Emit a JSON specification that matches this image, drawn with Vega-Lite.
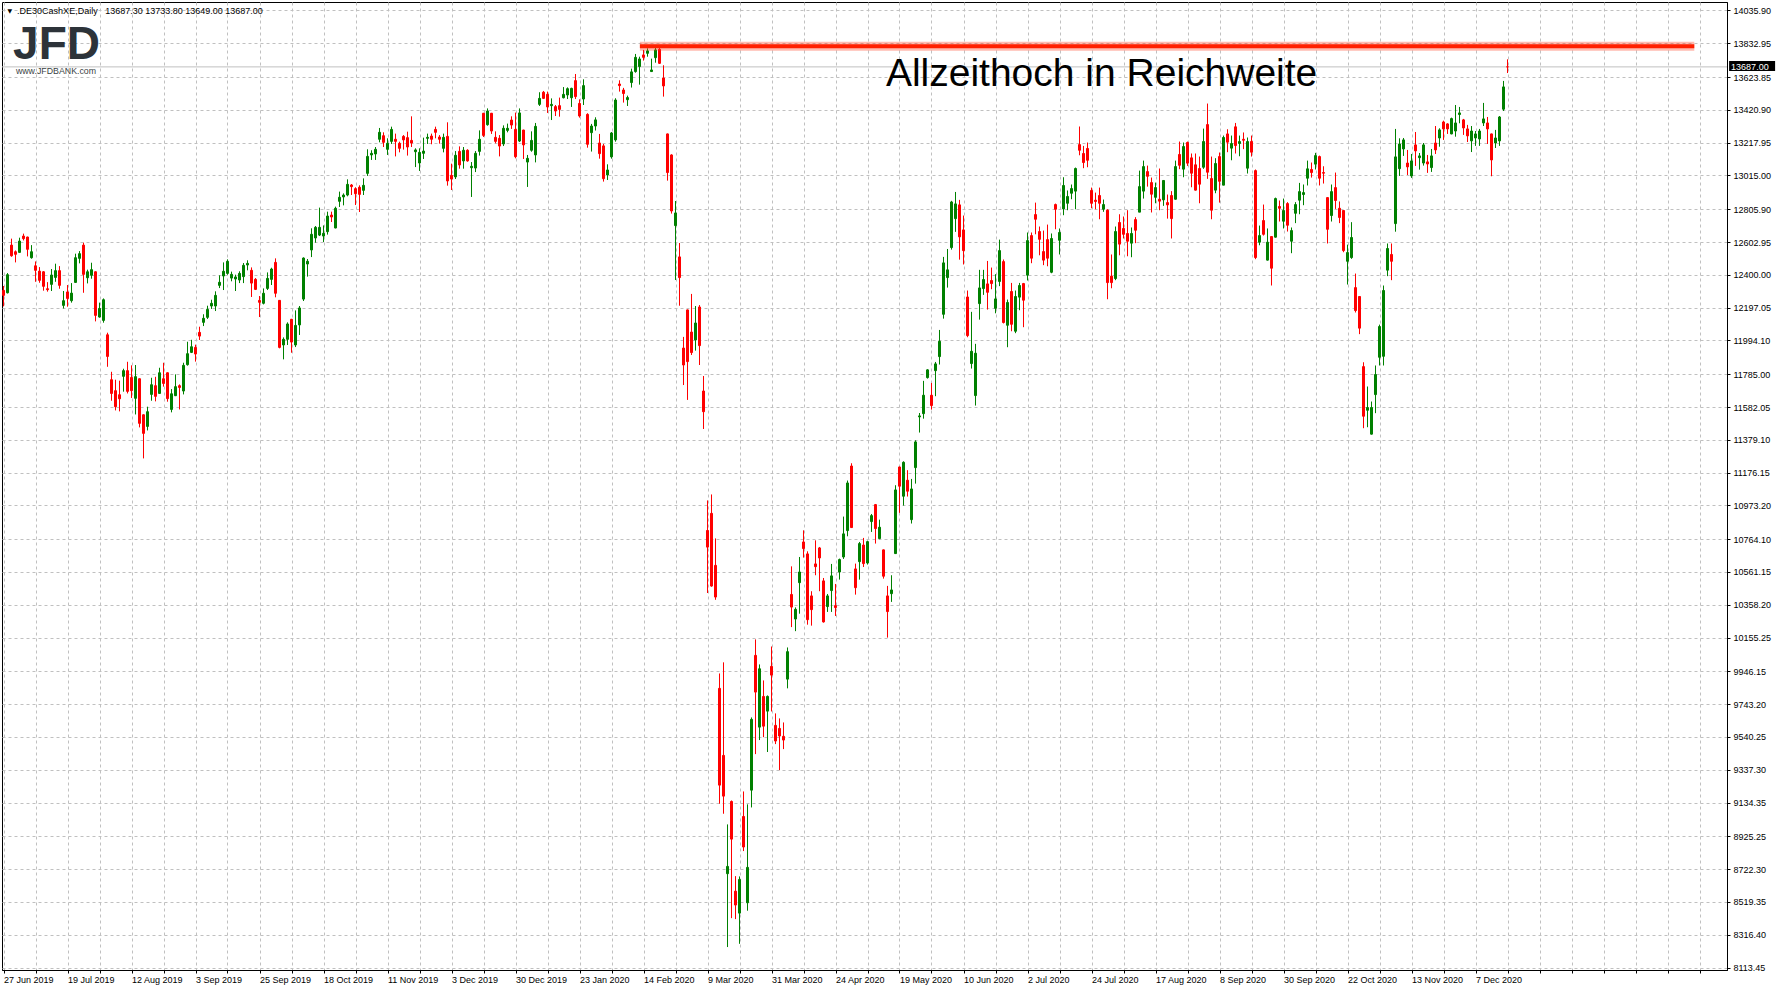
{
"$schema": "https://vega.github.io/schema/vega-lite/v6.json",
"width": 1725,
"height": 968,
"autosize": {"type": "none"},
"padding": {"left": 2, "top": 2, "right": 51, "bottom": 21},
"background": "white",
"config": {"view": {"stroke": "#000000", "strokeWidth": 1}, "font": "Liberation Sans", "scale": {"continuousPadding": 0}},
"datasets": {
"candles": [
{"i":0,"o":12304,"h":12331,"l":12205,"c":12273},
{"i":1,"o":12289,"h":12411,"l":12285,"c":12401},
{"i":2,"o":12584,"h":12624,"l":12512,"c":12518},
{"i":3,"o":12543,"h":12551,"l":12477,"c":12527},
{"i":4,"o":12539,"h":12630,"l":12537,"c":12609},
{"i":5,"o":12640,"h":12655,"l":12613,"c":12624},
{"i":6,"o":12634,"h":12636,"l":12514,"c":12558},
{"i":7,"o":12506,"h":12584,"l":12500,"c":12543},
{"i":8,"o":12456,"h":12483,"l":12357,"c":12428},
{"i":9,"o":12423,"h":12448,"l":12351,"c":12366},
{"i":10,"o":12419,"h":12423,"l":12302,"c":12329},
{"i":11,"o":12314,"h":12355,"l":12296,"c":12308},
{"i":12,"o":12341,"h":12436,"l":12300,"c":12399},
{"i":13,"o":12384,"h":12469,"l":12357,"c":12426},
{"i":14,"o":12426,"h":12454,"l":12314,"c":12335},
{"i":15,"o":12211,"h":12300,"l":12192,"c":12240},
{"i":16,"o":12294,"h":12337,"l":12203,"c":12254},
{"i":17,"o":12240,"h":12349,"l":12228,"c":12287},
{"i":18,"o":12353,"h":12531,"l":12351,"c":12506},
{"i":19,"o":12502,"h":12547,"l":12471,"c":12531},
{"i":20,"o":12584,"h":12599,"l":12289,"c":12403},
{"i":21,"o":12382,"h":12432,"l":12347,"c":12419},
{"i":22,"o":12397,"h":12475,"l":12376,"c":12432},
{"i":23,"o":12419,"h":12421,"l":12112,"c":12149},
{"i":24,"o":12139,"h":12228,"l":12135,"c":12192},
{"i":25,"o":12118,"h":12254,"l":12104,"c":12246},
{"i":26,"o":12029,"h":12042,"l":11831,"c":11895},
{"i":27,"o":11751,"h":11800,"l":11621,"c":11666},
{"i":28,"o":11683,"h":11751,"l":11561,"c":11584},
{"i":29,"o":11658,"h":11745,"l":11555,"c":11633},
{"i":30,"o":11772,"h":11819,"l":11677,"c":11807},
{"i":31,"o":11807,"h":11862,"l":11666,"c":11679},
{"i":32,"o":11765,"h":11840,"l":11638,"c":11683},
{"i":33,"o":11636,"h":11842,"l":11536,"c":11770},
{"i":34,"o":11757,"h":11759,"l":11456,"c":11481},
{"i":35,"o":11534,"h":11536,"l":11264,"c":11419},
{"i":36,"o":11462,"h":11584,"l":11437,"c":11553},
{"i":37,"o":11660,"h":11763,"l":11621,"c":11720},
{"i":38,"o":11714,"h":11769,"l":11617,"c":11648},
{"i":39,"o":11666,"h":11825,"l":11664,"c":11794},
{"i":40,"o":11757,"h":11856,"l":11708,"c":11728},
{"i":41,"o":11794,"h":11796,"l":11615,"c":11634},
{"i":42,"o":11567,"h":11693,"l":11549,"c":11664},
{"i":43,"o":11652,"h":11784,"l":11650,"c":11708},
{"i":44,"o":11714,"h":11722,"l":11567,"c":11703},
{"i":45,"o":11681,"h":11856,"l":11660,"c":11840},
{"i":46,"o":11844,"h":11986,"l":11838,"c":11912},
{"i":47,"o":11920,"h":11998,"l":11916,"c":11955},
{"i":48,"o":11951,"h":11968,"l":11863,"c":11910},
{"i":49,"o":12044,"h":12079,"l":11997,"c":12021},
{"i":50,"o":12106,"h":12156,"l":12083,"c":12131},
{"i":51,"o":12137,"h":12209,"l":12127,"c":12186},
{"i":52,"o":12207,"h":12246,"l":12189,"c":12224},
{"i":53,"o":12207,"h":12298,"l":12176,"c":12273},
{"i":54,"o":12335,"h":12397,"l":12318,"c":12354},
{"i":55,"o":12393,"h":12477,"l":12306,"c":12422},
{"i":56,"o":12409,"h":12496,"l":12401,"c":12484},
{"i":57,"o":12380,"h":12420,"l":12360,"c":12403},
{"i":58,"o":12374,"h":12401,"l":12300,"c":12387},
{"i":59,"o":12368,"h":12422,"l":12349,"c":12409},
{"i":60,"o":12389,"h":12473,"l":12349,"c":12459},
{"i":61,"o":12461,"h":12490,"l":12428,"c":12471},
{"i":62,"o":12428,"h":12446,"l":12263,"c":12349},
{"i":63,"o":12372,"h":12380,"l":12306,"c":12310},
{"i":64,"o":12242,"h":12269,"l":12139,"c":12230},
{"i":65,"o":12224,"h":12316,"l":12217,"c":12286},
{"i":66,"o":12316,"h":12415,"l":12306,"c":12378},
{"i":67,"o":12372,"h":12444,"l":12337,"c":12436},
{"i":68,"o":12477,"h":12502,"l":12261,"c":12286},
{"i":69,"o":12242,"h":12244,"l":11945,"c":11951},
{"i":70,"o":11966,"h":12013,"l":11877,"c":12001},
{"i":71,"o":12001,"h":12106,"l":11966,"c":12096},
{"i":72,"o":12125,"h":12127,"l":11918,"c":11984},
{"i":73,"o":11966,"h":12180,"l":11953,"c":12087},
{"i":74,"o":12090,"h":12207,"l":12028,"c":12195},
{"i":75,"o":12250,"h":12508,"l":12238,"c":12504},
{"i":76,"o":12467,"h":12498,"l":12389,"c":12484},
{"i":77,"o":12554,"h":12688,"l":12510,"c":12651},
{"i":78,"o":12628,"h":12702,"l":12599,"c":12694},
{"i":79,"o":12646,"h":12816,"l":12640,"c":12694},
{"i":80,"o":12640,"h":12706,"l":12603,"c":12657},
{"i":81,"o":12667,"h":12791,"l":12649,"c":12764},
{"i":82,"o":12770,"h":12791,"l":12727,"c":12758},
{"i":83,"o":12690,"h":12822,"l":12688,"c":12812},
{"i":84,"o":12855,"h":12915,"l":12820,"c":12880},
{"i":85,"o":12882,"h":12904,"l":12830,"c":12894},
{"i":86,"o":12894,"h":12991,"l":12886,"c":12960},
{"i":87,"o":12956,"h":12962,"l":12894,"c":12946},
{"i":88,"o":12933,"h":12942,"l":12832,"c":12902},
{"i":89,"o":12942,"h":12954,"l":12789,"c":12898},
{"i":90,"o":12923,"h":12997,"l":12894,"c":12954},
{"i":91,"o":13028,"h":13177,"l":13012,"c":13133},
{"i":92,"o":13142,"h":13171,"l":13111,"c":13152},
{"i":93,"o":13148,"h":13191,"l":13111,"c":13177},
{"i":94,"o":13239,"h":13309,"l":13220,"c":13282},
{"i":95,"o":13261,"h":13282,"l":13191,"c":13220},
{"i":96,"o":13177,"h":13245,"l":13142,"c":13214},
{"i":97,"o":13226,"h":13317,"l":13210,"c":13300},
{"i":98,"o":13239,"h":13274,"l":13133,"c":13226},
{"i":99,"o":13214,"h":13224,"l":13158,"c":13183},
{"i":100,"o":13257,"h":13265,"l":13175,"c":13235},
{"i":101,"o":13249,"h":13286,"l":13138,"c":13191},
{"i":102,"o":13232,"h":13381,"l":13191,"c":13216},
{"i":103,"o":13162,"h":13183,"l":13067,"c":13173},
{"i":104,"o":13092,"h":13183,"l":13043,"c":13158},
{"i":105,"o":13152,"h":13249,"l":13117,"c":13166},
{"i":106,"o":13245,"h":13274,"l":13210,"c":13251},
{"i":107,"o":13259,"h":13274,"l":13208,"c":13239},
{"i":108,"o":13300,"h":13317,"l":13245,"c":13282},
{"i":109,"o":13253,"h":13265,"l":13212,"c":13239},
{"i":110,"o":13183,"h":13274,"l":13158,"c":13251},
{"i":111,"o":13257,"h":13344,"l":12952,"c":12981},
{"i":112,"o":13016,"h":13088,"l":12925,"c":12993},
{"i":113,"o":13006,"h":13166,"l":12993,"c":13140},
{"i":114,"o":13164,"h":13195,"l":13057,"c":13080},
{"i":115,"o":13105,"h":13191,"l":13057,"c":13171},
{"i":116,"o":13171,"h":13177,"l":13100,"c":13105},
{"i":117,"o":13063,"h":13098,"l":12882,"c":13072},
{"i":118,"o":13061,"h":13166,"l":13036,"c":13152},
{"i":119,"o":13164,"h":13294,"l":13138,"c":13239},
{"i":120,"o":13400,"h":13402,"l":13253,"c":13263},
{"i":121,"o":13329,"h":13430,"l":13323,"c":13414},
{"i":122,"o":13400,"h":13402,"l":13272,"c":13290},
{"i":123,"o":13251,"h":13288,"l":13214,"c":13226},
{"i":124,"o":13245,"h":13265,"l":13133,"c":13197},
{"i":125,"o":13210,"h":13325,"l":13197,"c":13307},
{"i":126,"o":13294,"h":13336,"l":13282,"c":13307},
{"i":127,"o":13358,"h":13381,"l":13303,"c":13327},
{"i":128,"o":13300,"h":13404,"l":13121,"c":13131},
{"i":129,"o":13228,"h":13430,"l":13222,"c":13402},
{"i":130,"o":13296,"h":13298,"l":13117,"c":13204},
{"i":131,"o":13098,"h":13142,"l":12944,"c":13121},
{"i":132,"o":13171,"h":13288,"l":13162,"c":13232},
{"i":133,"o":13142,"h":13340,"l":13096,"c":13319},
{"i":134,"o":13455,"h":13530,"l":13445,"c":13492},
{"i":135,"o":13530,"h":13538,"l":13488,"c":13492},
{"i":136,"o":13517,"h":13534,"l":13402,"c":13439},
{"i":137,"o":13447,"h":13492,"l":13358,"c":13455},
{"i":138,"o":13441,"h":13451,"l":13383,"c":13414},
{"i":139,"o":13447,"h":13497,"l":13379,"c":13424},
{"i":140,"o":13496,"h":13562,"l":13492,"c":13517},
{"i":141,"o":13513,"h":13560,"l":13488,"c":13552},
{"i":142,"o":13496,"h":13558,"l":13439,"c":13554},
{"i":143,"o":13602,"h":13643,"l":13488,"c":13503},
{"i":144,"o":13461,"h":13486,"l":13373,"c":13383},
{"i":145,"o":13488,"h":13610,"l":13451,"c":13571},
{"i":146,"o":13393,"h":13400,"l":13187,"c":13208},
{"i":147,"o":13280,"h":13334,"l":13163,"c":13321},
{"i":148,"o":13321,"h":13375,"l":13293,"c":13359},
{"i":149,"o":13216,"h":13272,"l":13119,"c":13150},
{"i":150,"o":13198,"h":13210,"l":12977,"c":12995},
{"i":151,"o":13018,"h":13084,"l":12987,"c":13049},
{"i":152,"o":13130,"h":13284,"l":13119,"c":13278},
{"i":153,"o":13235,"h":13493,"l":13224,"c":13482},
{"i":154,"o":13581,"h":13604,"l":13534,"c":13571},
{"i":155,"o":13544,"h":13557,"l":13466,"c":13522},
{"i":156,"o":13484,"h":13509,"l":13445,"c":13497},
{"i":157,"o":13590,"h":13676,"l":13559,"c":13656},
{"i":158,"o":13658,"h":13767,"l":13651,"c":13746},
{"i":159,"o":13689,"h":13750,"l":13577,"c":13736},
{"i":160,"o":13761,"h":13792,"l":13726,"c":13746},
{"i":161,"o":13771,"h":13802,"l":13750,"c":13786},
{"i":162,"o":13658,"h":13738,"l":13656,"c":13668},
{"i":163,"o":13744,"h":13808,"l":13713,"c":13792},
{"i":164,"o":13796,"h":13812,"l":13705,"c":13709},
{"i":165,"o":13618,"h":13697,"l":13503,"c":13569},
{"i":166,"o":13272,"h":13274,"l":12983,"c":13033},
{"i":167,"o":13142,"h":13146,"l":12779,"c":12795},
{"i":168,"o":12705,"h":12857,"l":12368,"c":12783},
{"i":169,"o":12511,"h":12597,"l":12209,"c":12383},
{"i":170,"o":11947,"h":12016,"l":11718,"c":11842},
{"i":171,"o":12183,"h":12185,"l":11626,"c":11863},
{"i":172,"o":12046,"h":12282,"l":11904,"c":11919},
{"i":173,"o":11997,"h":12207,"l":11931,"c":12102},
{"i":174,"o":12201,"h":12213,"l":11842,"c":11962},
{"i":175,"o":11681,"h":11774,"l":11446,"c":11553},
{"i":176,"o":10818,"h":11004,"l":10431,"c":10715},
{"i":177,"o":10924,"h":11041,"l":10470,"c":10474},
{"i":178,"o":10602,"h":10769,"l":10389,"c":10406},
{"i":179,"o":9841,"h":9933,"l":9127,"c":9242},
{"i":180,"o":9426,"h":10002,"l":9065,"c":9174},
{"i":181,"o":8694,"h":8999,"l":8240,"c":8739},
{"i":182,"o":9141,"h":9147,"l":8419,"c":8908},
{"i":183,"o":8586,"h":8679,"l":8413,"c":8500},
{"i":184,"o":8450,"h":8677,"l":8260,"c":8658},
{"i":185,"o":9048,"h":9203,"l":8834,"c":8859},
{"i":186,"o":8514,"h":9123,"l":8465,"c":8733},
{"i":187,"o":9211,"h":9661,"l":9104,"c":9649},
{"i":188,"o":10045,"h":10144,"l":9434,"c":9818},
{"i":189,"o":9601,"h":9989,"l":9521,"c":9962},
{"i":190,"o":9791,"h":9890,"l":9539,"c":9607},
{"i":191,"o":9700,"h":9797,"l":9447,"c":9791},
{"i":192,"o":9977,"h":10100,"l":9698,"c":9923},
{"i":193,"o":9612,"h":9686,"l":9496,"c":9515},
{"i":194,"o":9593,"h":9655,"l":9335,"c":9546},
{"i":195,"o":9544,"h":9630,"l":9465,"c":9521},
{"i":196,"o":9898,"h":10094,"l":9841,"c":10068},
{"i":197,"o":10422,"h":10596,"l":10220,"c":10344},
{"i":198,"o":10270,"h":10342,"l":10195,"c":10330},
{"i":199,"o":10495,"h":10654,"l":10303,"c":10561},
{"i":200,"o":10747,"h":10819,"l":10650,"c":10706},
{"i":201,"o":10673,"h":10689,"l":10235,"c":10266},
{"i":202,"o":10413,"h":10442,"l":10229,"c":10328},
{"i":203,"o":10611,"h":10757,"l":10541,"c":10594},
{"i":204,"o":10710,"h":10716,"l":10442,"c":10648},
{"i":205,"o":10506,"h":10524,"l":10248,"c":10252},
{"i":206,"o":10347,"h":10425,"l":10314,"c":10413},
{"i":207,"o":10446,"h":10611,"l":10314,"c":10537},
{"i":208,"o":10353,"h":10487,"l":10289,"c":10341},
{"i":209,"o":10561,"h":10644,"l":10514,"c":10638},
{"i":210,"o":10654,"h":10904,"l":10642,"c":10797},
{"i":211,"o":10817,"h":11127,"l":10782,"c":11112},
{"i":212,"o":11217,"h":11234,"l":10834,"c":10836},
{"i":213,"o":10580,"h":10613,"l":10421,"c":10464},
{"i":214,"o":10625,"h":10747,"l":10514,"c":10737},
{"i":215,"o":10728,"h":10772,"l":10592,"c":10613},
{"i":216,"o":10617,"h":10755,"l":10607,"c":10749},
{"i":217,"o":10873,"h":10920,"l":10809,"c":10910},
{"i":218,"o":10978,"h":10982,"l":10737,"c":10830},
{"i":219,"o":10768,"h":10885,"l":10764,"c":10838},
{"i":220,"o":10698,"h":10700,"l":10520,"c":10535},
{"i":221,"o":10413,"h":10475,"l":10155,"c":10316},
{"i":222,"o":10427,"h":10541,"l":10376,"c":10450},
{"i":223,"o":10675,"h":11098,"l":10673,"c":11069},
{"i":224,"o":11211,"h":11213,"l":10927,"c":11092},
{"i":225,"o":11030,"h":11246,"l":10972,"c":11240},
{"i":226,"o":11129,"h":11191,"l":11028,"c":11061},
{"i":227,"o":10885,"h":11137,"l":10861,"c":11075},
{"i":228,"o":11207,"h":11376,"l":11108,"c":11366},
{"i":229,"o":11521,"h":11545,"l":11424,"c":11527},
{"i":230,"o":11541,"h":11744,"l":11510,"c":11655},
{"i":231,"o":11764,"h":11816,"l":11758,"c":11812},
{"i":232,"o":11655,"h":11731,"l":11566,"c":11591},
{"i":233,"o":11807,"h":11861,"l":11649,"c":11849},
{"i":234,"o":11894,"h":12059,"l":11845,"c":11989},
{"i":235,"o":12156,"h":12511,"l":12129,"c":12474},
{"i":236,"o":12383,"h":12560,"l":12321,"c":12431},
{"i":237,"o":12569,"h":12858,"l":12556,"c":12851},
{"i":238,"o":12748,"h":12913,"l":12666,"c":12839},
{"i":239,"o":12833,"h":12864,"l":12494,"c":12635},
{"i":240,"o":12678,"h":12767,"l":12464,"c":12550},
{"i":241,"o":12263,"h":12303,"l":12014,"c":12024},
{"i":242,"o":11851,"h":12171,"l":11820,"c":11927},
{"i":243,"o":11653,"h":11973,"l":11591,"c":11915},
{"i":244,"o":12222,"h":12431,"l":12123,"c":12319},
{"i":245,"o":12315,"h":12431,"l":12276,"c":12371},
{"i":246,"o":12344,"h":12486,"l":12185,"c":12292},
{"i":247,"o":12365,"h":12445,"l":12311,"c":12346},
{"i":248,"o":12193,"h":12404,"l":12162,"c":12251},
{"i":249,"o":12359,"h":12618,"l":12330,"c":12550},
{"i":250,"o":12482,"h":12495,"l":12099,"c":12105},
{"i":251,"o":12088,"h":12247,"l":11952,"c":12229},
{"i":252,"o":12297,"h":12350,"l":12051,"c":12094},
{"i":253,"o":12051,"h":12303,"l":12039,"c":12266},
{"i":254,"o":12262,"h":12350,"l":12181,"c":12334},
{"i":255,"o":12346,"h":12350,"l":12076,"c":12243},
{"i":256,"o":12398,"h":12662,"l":12365,"c":12612},
{"i":257,"o":12643,"h":12662,"l":12472,"c":12503},
{"i":258,"o":12773,"h":12847,"l":12651,"c":12744},
{"i":259,"o":12668,"h":12699,"l":12521,"c":12620},
{"i":260,"o":12544,"h":12674,"l":12460,"c":12491},
{"i":261,"o":12618,"h":12711,"l":12453,"c":12503},
{"i":262,"o":12416,"h":12656,"l":12410,"c":12625},
{"i":263,"o":12835,"h":12841,"l":12682,"c":12806},
{"i":264,"o":12614,"h":12687,"l":12526,"c":12662},
{"i":265,"o":12808,"h":13004,"l":12769,"c":12953},
{"i":266,"o":12843,"h":12922,"l":12800,"c":12885},
{"i":267,"o":12905,"h":12959,"l":12868,"c":12934},
{"i":268,"o":12918,"h":13064,"l":12806,"c":13058},
{"i":269,"o":13206,"h":13318,"l":13140,"c":13171},
{"i":270,"o":13151,"h":13198,"l":13060,"c":13095},
{"i":271,"o":13182,"h":13219,"l":13066,"c":13109},
{"i":272,"o":12922,"h":12940,"l":12812,"c":12843},
{"i":273,"o":12862,"h":12909,"l":12806,"c":12854},
{"i":274,"o":12891,"h":12940,"l":12744,"c":12843},
{"i":275,"o":12806,"h":12866,"l":12790,"c":12835},
{"i":276,"o":12800,"h":12806,"l":12249,"c":12352},
{"i":277,"o":12392,"h":12526,"l":12317,"c":12352},
{"i":278,"o":12377,"h":12699,"l":12367,"c":12668},
{"i":279,"o":12724,"h":12775,"l":12521,"c":12590},
{"i":280,"o":12687,"h":12761,"l":12625,"c":12651},
{"i":281,"o":12656,"h":12800,"l":12515,"c":12608},
{"i":282,"o":12596,"h":12693,"l":12509,"c":12656},
{"i":283,"o":12742,"h":12757,"l":12596,"c":12676},
{"i":284,"o":12788,"h":13045,"l":12788,"c":12946},
{"i":285,"o":12918,"h":13107,"l":12872,"c":13070},
{"i":286,"o":13039,"h":13076,"l":12946,"c":13010},
{"i":287,"o":12971,"h":13002,"l":12786,"c":12899},
{"i":288,"o":12880,"h":12971,"l":12843,"c":12940},
{"i":289,"o":12868,"h":13058,"l":12800,"c":12856},
{"i":290,"o":12864,"h":12986,"l":12827,"c":12984},
{"i":291,"o":12847,"h":12897,"l":12748,"c":12833},
{"i":292,"o":12891,"h":12918,"l":12625,"c":12748},
{"i":293,"o":12868,"h":13107,"l":12866,"c":13070},
{"i":294,"o":13145,"h":13225,"l":13054,"c":13078},
{"i":295,"o":13054,"h":13219,"l":13004,"c":13194},
{"i":296,"o":13219,"h":13225,"l":13074,"c":13091},
{"i":297,"o":13124,"h":13151,"l":12942,"c":13029},
{"i":298,"o":13081,"h":13151,"l":12922,"c":12924},
{"i":299,"o":13058,"h":13132,"l":12843,"c":12961},
{"i":300,"o":13066,"h":13305,"l":13056,"c":13225},
{"i":301,"o":13330,"h":13460,"l":12994,"c":13035},
{"i":302,"o":12996,"h":13132,"l":12744,"c":12800},
{"i":303,"o":12924,"h":13122,"l":12905,"c":13089},
{"i":304,"o":13132,"h":13157,"l":12847,"c":12979},
{"i":305,"o":12955,"h":13262,"l":12955,"c":13250},
{"i":306,"o":13272,"h":13301,"l":13159,"c":13221},
{"i":307,"o":13184,"h":13262,"l":13109,"c":13213},
{"i":308,"o":13316,"h":13340,"l":13151,"c":13200},
{"i":309,"o":13213,"h":13262,"l":13134,"c":13225},
{"i":310,"o":13239,"h":13281,"l":13178,"c":13233},
{"i":311,"o":13060,"h":13250,"l":13027,"c":13225},
{"i":312,"o":13225,"h":13262,"l":13132,"c":13159},
{"i":313,"o":13045,"h":13052,"l":12497,"c":12507},
{"i":314,"o":12602,"h":12705,"l":12583,"c":12643},
{"i":315,"o":12736,"h":12835,"l":12643,"c":12651},
{"i":316,"o":12491,"h":12687,"l":12489,"c":12602},
{"i":317,"o":12637,"h":12639,"l":12334,"c":12441},
{"i":318,"o":12633,"h":12878,"l":12631,"c":12872},
{"i":319,"o":12823,"h":12860,"l":12730,"c":12812},
{"i":320,"o":12732,"h":12872,"l":12687,"c":12798},
{"i":321,"o":12841,"h":12850,"l":12668,"c":12707},
{"i":322,"o":12608,"h":12693,"l":12534,"c":12674},
{"i":323,"o":12781,"h":12850,"l":12720,"c":12835},
{"i":324,"o":12862,"h":12969,"l":12775,"c":12915},
{"i":325,"o":12897,"h":12959,"l":12831,"c":12909},
{"i":326,"o":12998,"h":13107,"l":12953,"c":13056},
{"i":327,"o":13052,"h":13095,"l":13002,"c":13033},
{"i":328,"o":13085,"h":13155,"l":13052,"c":13138},
{"i":329,"o":13132,"h":13138,"l":12953,"c":12998},
{"i":330,"o":13033,"h":13072,"l":12965,"c":13029},
{"i":331,"o":12878,"h":12880,"l":12594,"c":12682},
{"i":332,"o":12767,"h":12959,"l":12730,"c":12915},
{"i":333,"o":12940,"h":13033,"l":12808,"c":12860},
{"i":334,"o":12812,"h":12854,"l":12720,"c":12755},
{"i":335,"o":12798,"h":12800,"l":12540,"c":12550},
{"i":336,"o":12484,"h":12587,"l":12340,"c":12538},
{"i":337,"o":12507,"h":12726,"l":12499,"c":12631},
{"i":338,"o":12321,"h":12408,"l":12167,"c":12179},
{"i":339,"o":12266,"h":12268,"l":12033,"c":12070},
{"i":340,"o":11832,"h":11859,"l":11451,"c":11525},
{"i":341,"o":11562,"h":11709,"l":11457,"c":11579},
{"i":342,"o":11414,"h":11616,"l":11412,"c":11579},
{"i":343,"o":11659,"h":11839,"l":11544,"c":11783},
{"i":344,"o":11890,"h":12092,"l":11839,"c":12080},
{"i":345,"o":11896,"h":12334,"l":11839,"c":12303},
{"i":346,"o":12429,"h":12594,"l":12392,"c":12563},
{"i":347,"o":12526,"h":12594,"l":12367,"c":12484},
{"i":348,"o":12717,"h":13303,"l":12667,"c":13130},
{"i":349,"o":13057,"h":13245,"l":13012,"c":13210},
{"i":350,"o":13179,"h":13247,"l":13136,"c":13235},
{"i":351,"o":13092,"h":13173,"l":13018,"c":13068},
{"i":352,"o":13012,"h":13148,"l":13000,"c":13105},
{"i":353,"o":13204,"h":13284,"l":13074,"c":13167},
{"i":354,"o":13125,"h":13154,"l":13051,"c":13136},
{"i":355,"o":13092,"h":13216,"l":13076,"c":13204},
{"i":356,"o":13099,"h":13142,"l":13031,"c":13086},
{"i":357,"o":13064,"h":13179,"l":13037,"c":13136},
{"i":358,"o":13216,"h":13321,"l":13148,"c":13173},
{"i":359,"o":13247,"h":13307,"l":13193,"c":13297},
{"i":360,"o":13346,"h":13354,"l":13235,"c":13303},
{"i":361,"o":13334,"h":13338,"l":13272,"c":13303},
{"i":362,"o":13272,"h":13373,"l":13270,"c":13367},
{"i":363,"o":13290,"h":13451,"l":13255,"c":13340},
{"i":364,"o":13392,"h":13439,"l":13338,"c":13402},
{"i":365,"o":13359,"h":13365,"l":13266,"c":13309},
{"i":366,"o":13303,"h":13328,"l":13222,"c":13260},
{"i":367,"o":13229,"h":13321,"l":13160,"c":13290},
{"i":368,"o":13247,"h":13290,"l":13198,"c":13272},
{"i":369,"o":13241,"h":13303,"l":13198,"c":13290},
{"i":370,"o":13340,"h":13464,"l":13321,"c":13365},
{"i":371,"o":13340,"h":13377,"l":13210,"c":13303},
{"i":372,"o":13272,"h":13274,"l":13010,"c":13111},
{"i":373,"o":13216,"h":13297,"l":13185,"c":13247},
{"i":374,"o":13229,"h":13383,"l":13198,"c":13377},
{"i":375,"o":13425,"h":13600,"l":13414,"c":13563},
{"i":376,"o":13687.3,"h":13733.8,"l":13649,"c":13687}
],
"level": [{"a": 159.1, "b": 422.7, "p": 13815}],
"last": [{"p": 13687, "t": "13687.00", "a": 431.4, "b": 442.9, "lo": 13661, "hi": 13723}],
"note": [{"t": "Allzeithoch in Reichweite", "x": 220.6, "p": 13567}],
"header": [{"t": ".DE30CashXE,Daily\u00a0\u00a0\u00a013687.30 13733.80 13649.00 13687.00", "x": 3.4, "p": 14033}],
"tri": [{"t": "\u25bc", "x": 1.6, "p": 14033}],
"logo": [{"t": "JFD", "x": 2.4, "p": 13734}],
"logosub": [{"t": "www.JFDBANK.com", "x": 3.1, "p": 13644}]
},
"layer": [
{
"data": {"name": "last"},
"mark": {"type": "rule", "color": "#c0c0c0", "strokeWidth": 1},
"encoding": {
"y": {"field": "p", "type": "quantitative", "scale": {"domain": [8097.98, 14088.5], "nice": false, "zero": false, "padding": 0},
"axis": {"orient": "right", "title": null, "tickCount": 200, "values": [14035.9,13832.95,13623.85,13420.9,13217.95,13015,12805.9,12602.95,12400,12197.05,11994.1,11785,11582.05,11379.1,11176.15,10973.2,10764.1,10561.15,10358.2,10155.25,9946.15,9743.2,9540.25,9337.3,9134.35,8925.25,8722.3,8519.35,8316.4,8113.45],
"format": ".2f", "grid": true, "gridColor": "#c0c0c0", "gridDash": [3, 3], "gridWidth": 1,
"domain": true, "domainColor": "#000000", "domainWidth": 1, "ticks": true, "tickColor": "#000000", "tickSize": 3,
"labelPadding": 3, "labelFont": "Liberation Sans", "labelFontSize": 9, "labelColor": "#000000",
"labelOverlap": false, "labelFlush": false, "labelBound": false}}
}
},
{
"data": {"name": "candles"},
"mark": {"type": "rule", "strokeWidth": 1},
"encoding": {
"x": {"field": "i", "type": "quantitative", "scale": {"domain": [-0.375, 430.875], "nice": false, "zero": false, "padding": 0},
"axis": {"orient": "bottom", "title": null, "tickCount": 200, "values": [0,8,16,24,32,40,48,56,64,72,80,88,96,104,112,120,128,136,144,152,160,168,176,184,192,200,208,216,224,232,240,248,256,264,272,280,288,296,304,312,320,328,336,344,352,360,368,376,384,392,400,408,416,424],
"labelExpr": "datum.value % 16 == 0 && datum.value <= 368 ? ['27 Jun 2019','19 Jul 2019','12 Aug 2019','3 Sep 2019','25 Sep 2019','18 Oct 2019','11 Nov 2019','3 Dec 2019','30 Dec 2019','23 Jan 2020','14 Feb 2020','9 Mar 2020','31 Mar 2020','24 Apr 2020','19 May 2020','10 Jun 2020','2 Jul 2020','24 Jul 2020','17 Aug 2020','8 Sep 2020','30 Sep 2020','22 Oct 2020','13 Nov 2020','7 Dec 2020'][datum.value / 16] : ''",
"grid": true, "gridColor": "#c0c0c0", "gridDash": [3, 3], "gridWidth": 1,
"domain": true, "domainColor": "#000000", "domainWidth": 1, "ticks": true, "tickColor": "#000000", "tickSize": 3,
"labelAlign": "left", "labelBaseline": "top", "labelPadding": 2, "labelFont": "Liberation Sans", "labelFontSize": 9, "labelColor": "#000000",
"labelOverlap": false, "labelFlush": false, "labelBound": false}},
"y": {"field": "l", "type": "quantitative", "title": null},
"y2": {"field": "h"},
"color": {"condition": {"test": "datum.c < datum.o", "value": "#ff0000"}, "value": "#008000"}
}
},
{
"data": {"name": "candles"},
"mark": {"type": "bar", "orient": "vertical", "width": 2, "strokeWidth": 1},
"encoding": {
"x": {"field": "i", "type": "quantitative", "title": null},
"y": {"field": "o", "type": "quantitative", "title": null},
"y2": {"field": "c"},
"color": {"condition": {"test": "datum.c < datum.o", "value": "#ff0000"}, "value": "#008000"},
"stroke": {"condition": {"test": "datum.c < datum.o", "value": "#ff0000"}, "value": "#008000"}
}
},
{
"data": {"name": "level"},
"mark": {"type": "rule", "color": "#ff3c1e", "strokeWidth": 9, "opacity": 0.35},
"encoding": {"x": {"field": "a", "type": "quantitative", "title": null}, "x2": {"field": "b"}, "y": {"field": "p", "type": "quantitative", "title": null}}
},
{
"data": {"name": "level"},
"mark": {"type": "rule", "color": "#ff2000", "strokeWidth": 4},
"encoding": {"x": {"field": "a", "type": "quantitative", "title": null}, "x2": {"field": "b"}, "y": {"field": "p", "type": "quantitative", "title": null}}
},
{
"data": {"name": "note"},
"mark": {"type": "text", "align": "left", "baseline": "alphabetic", "font": "Liberation Sans", "fontSize": 39, "color": "#000000"},
"encoding": {"x": {"field": "x", "type": "quantitative", "title": null}, "y": {"field": "p", "type": "quantitative", "title": null}, "text": {"field": "t"}}
},
{
"data": {"name": "header"},
"mark": {"type": "text", "align": "left", "baseline": "middle", "font": "Liberation Sans", "fontSize": 9, "color": "#000000"},
"encoding": {"x": {"field": "x", "type": "quantitative", "title": null}, "y": {"field": "p", "type": "quantitative", "title": null}, "text": {"field": "t"}}
},
{
"data": {"name": "tri"},
"mark": {"type": "text", "align": "center", "baseline": "middle", "font": "DejaVu Sans", "fontSize": 6, "color": "#000000"},
"encoding": {"x": {"field": "x", "type": "quantitative", "title": null}, "y": {"field": "p", "type": "quantitative", "title": null}, "text": {"field": "t"}}
},
{
"data": {"name": "logo"},
"mark": {"type": "text", "align": "left", "baseline": "alphabetic", "font": "Liberation Sans", "fontWeight": "bold", "fontSize": 46, "color": "#2d3339"},
"encoding": {"x": {"field": "x", "type": "quantitative", "title": null}, "y": {"field": "p", "type": "quantitative", "title": null}, "text": {"field": "t"}}
},
{
"data": {"name": "logosub"},
"mark": {"type": "text", "align": "left", "baseline": "alphabetic", "font": "Liberation Sans", "fontSize": 8.8, "color": "#3a3f44"},
"encoding": {"x": {"field": "x", "type": "quantitative", "title": null}, "y": {"field": "p", "type": "quantitative", "title": null}, "text": {"field": "t"}}
},
{
"data": {"name": "last"},
"mark": {"type": "rect", "color": "#000000", "clip": false},
"encoding": {"x": {"field": "a", "type": "quantitative", "title": null}, "x2": {"field": "b"}, "y": {"field": "lo", "type": "quantitative", "title": null}, "y2": {"field": "hi"}}
},
{
"data": {"name": "last"},
"mark": {"type": "text", "align": "left", "baseline": "middle", "font": "Liberation Sans", "fontSize": 9, "color": "#ffffff", "dx": 2},
"encoding": {"x": {"field": "a", "type": "quantitative", "title": null}, "y": {"field": "p", "type": "quantitative", "title": null}, "text": {"field": "t"}}
}
]
}
